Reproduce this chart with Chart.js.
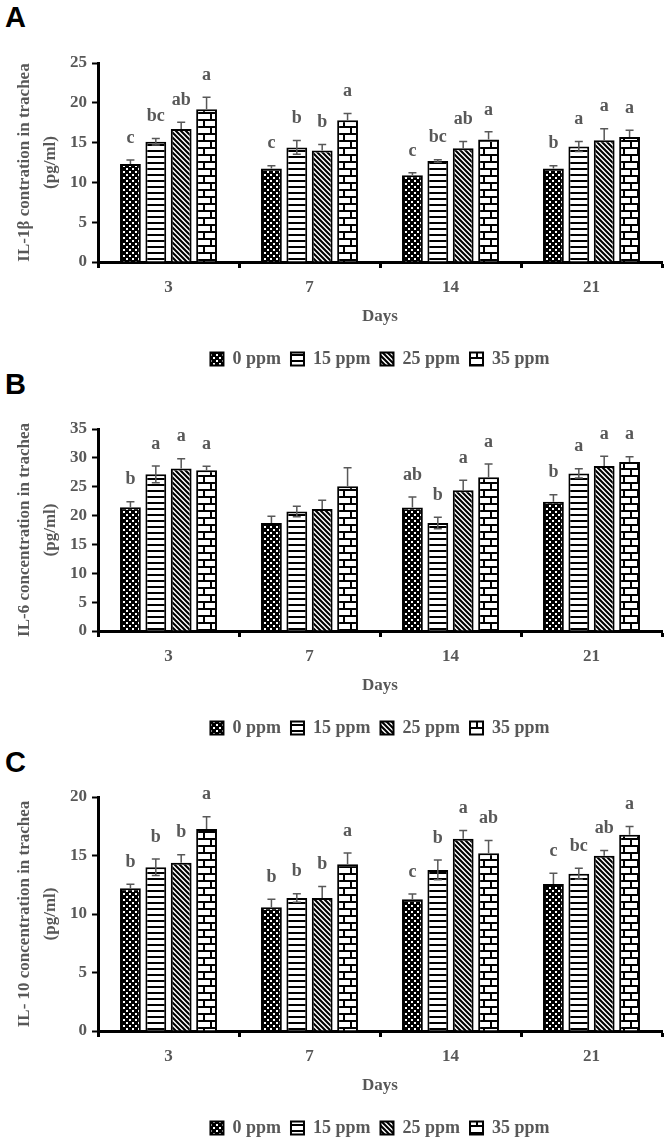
<!DOCTYPE html>
<html>
<head>
<meta charset="utf-8">
<script src="https://cdn.jsdelivr.net/npm/chart.js@4.4.1/dist/chart.umd.min.js"></script>
<style>
  html, body { margin: 0; padding: 0; background: #fff; width: 664px; height: 1141px; overflow: hidden; }
  canvas { position: absolute; left: 0; }
  .tag { position: absolute; left: 5px; font: bold 29px "Liberation Sans", Arial, sans-serif; color: #000; }
</style>
</head>
<body>
<div class="tag" style="top:1px">A</div>
<div class="tag" style="top:368px">B</div>
<div class="tag" style="top:746px">C</div>
<canvas id="chartA" width="664" height="378" style="top:0px"></canvas>
<canvas id="chartB" width="664" height="377" style="top:370px"></canvas>
<canvas id="chartC" width="664" height="407" style="top:740px"></canvas>
<script>
const days = ['3', '7', '14', '21'];
const doses = ['0 ppm', '15 ppm', '25 ppm', '35 ppm'];

// IL-1beta (A)
const il1b_0 = [12.3, 11.75, 10.9, 11.75];
const il1b_15 = [15.1, 14.4, 12.7, 14.5];
const il1b_25 = [16.7, 14.0, 14.3, 15.3];
const il1b_35 = [19.2, 17.8, 15.4, 15.7];
const il1bErr_0 = [0.5, 0.35, 0.3, 0.33];
const il1bErr_15 = [0.4, 0.85, 0.16, 0.63];
const il1bErr_25 = [0.85, 0.75, 0.84, 1.43];
const il1bErr_35 = [1.5, 0.85, 0.95, 0.85];
const il1bSig_0 = ['c', 'c', 'c', 'b'];
const il1bSig_15 = ['bc', 'b', 'bc', 'a'];
const il1bSig_25 = ['ab', 'b', 'ab', 'a'];
const il1bSig_35 = ['a', 'a', 'a', 'a'];

// IL-6 (B)
const il6_0 = [21.45, 18.7, 21.4, 22.4];
const il6_15 = [27.15, 20.7, 18.7, 27.3];
const il6_25 = [28.15, 21.15, 24.4, 28.6];
const il6_35 = [27.85, 25.1, 26.65, 29.3];
const il6Err_0 = [0.95, 1.2, 1.8, 1.2];
const il6Err_15 = [1.45, 0.9, 1.0, 0.8];
const il6Err_25 = [1.7, 1.5, 1.7, 1.7];
const il6Err_35 = [0.7, 3.2, 2.3, 0.9];
const il6Sig_0 = ['b', '', 'ab', 'b'];
const il6Sig_15 = ['a', '', 'b', 'a'];
const il6Sig_25 = ['a', '', 'a', 'a'];
const il6Sig_35 = ['a', '', 'a', 'a'];

// IL-10 (C)
const il10_0 = [12.2, 10.57, 11.26, 12.57];
const il10_15 = [14.0, 11.37, 13.77, 13.43];
const il10_25 = [14.37, 11.37, 16.43, 14.97];
const il10_35 = [17.26, 14.26, 15.2, 16.77];
const il10Err_0 = [0.35, 0.7, 0.45, 0.92];
const il10Err_15 = [0.7, 0.37, 0.85, 0.47];
const il10Err_25 = [0.7, 0.97, 0.7, 0.45];
const il10Err_35 = [1.05, 0.95, 1.08, 0.71];
const il10Sig_0 = ['b', 'b', 'c', 'c'];
const il10Sig_15 = ['b', 'b', 'b', 'bc'];
const il10Sig_25 = ['b', 'b', 'a', 'ab'];
const il10Sig_35 = ['a', 'a', 'ab', 'a'];

const SERIF = '"Liberation Serif", "Times New Roman", serif';
const GREY = '#585858';

function tile(w, h, draw) {
  const c = document.createElement('canvas');
  c.width = w; c.height = h;
  const g = c.getContext('2d');
  g.fillStyle = '#fff';
  g.fillRect(0, 0, w, h);
  draw(g);
  return document.createElement('canvas').getContext('2d').createPattern(c, 'repeat');
}

const dotPattern = tile(6, 6, g => {
  g.fillStyle = '#000';
  g.fillRect(0, 0, 6, 6);
  g.fillStyle = '#fff';
  g.fillRect(0, 0, 2, 2);
  g.fillRect(3, 3, 2, 2);
});
const linePattern = tile(6, 6, g => {
  g.fillStyle = '#000';
  g.fillRect(0, 0, 6, 2);
});
const diagPattern = tile(5, 5, g => {
  g.strokeStyle = '#000';
  g.lineWidth = 2.1;
  g.beginPath();
  g.moveTo(-1, -1); g.lineTo(6, 6);
  g.moveTo(-1, 4); g.lineTo(1, 6);
  g.moveTo(4, -1); g.lineTo(6, 1);
  g.stroke();
});
const brickPattern = tile(14, 14, g => {
  g.fillStyle = '#000';
  g.fillRect(0, 0, 14, 2);
  g.fillRect(0, 7, 14, 2);
  g.fillRect(0, 0, 2, 7);
  g.fillRect(7, 7, 2, 7);
});
const patterns = [dotPattern, linePattern, diagPattern, brickPattern];
const lowerWhisker = [false, true, false, false];

// error bars + significance letters
const errorBars = {
  id: 'errorBars',
  afterDatasetsDraw(chart) {
    const {ctx} = chart;
    const y = chart.scales.y;
    ctx.save();
    chart.data.datasets.forEach((ds, i) => {
      chart.getDatasetMeta(i).data.forEach((bar, j) => {
        const v = ds.data[j], e = ds.errors[j];
        const top = y.getPixelForValue(v + e);
        const bottom = y.getPixelForValue(lowerWhisker[i] ? v - e : v);
        ctx.strokeStyle = GREY;
        ctx.lineWidth = 1.5;
        ctx.beginPath();
        ctx.moveTo(bar.x, bottom);
        ctx.lineTo(bar.x, top);
        ctx.moveTo(bar.x - 4, top);
        ctx.lineTo(bar.x + 4, top);
        if (lowerWhisker[i]) {
          ctx.moveTo(bar.x - 4, bottom);
          ctx.lineTo(bar.x + 4, bottom);
        }
        ctx.stroke();
        ctx.fillStyle = GREY;
        ctx.font = 'bold 18px ' + SERIF;
        ctx.textAlign = 'center';
        ctx.textBaseline = 'middle';
        ctx.fillText(ds.letters[j], bar.x, top - 22);
      });
    });
    ctx.restore();
  }
};

function makeChart(id, title, yMax, top, values, errs, sigs) {
  const datasets = doses.map((d, i) => ({
    label: d,
    data: values[i],
    errors: errs[i],
    letters: sigs[i],
    backgroundColor: patterns[i],
    borderColor: '#000',
    borderWidth: 2,
    barPercentage: 0.82,
    categoryPercentage: 0.72
  }));
  return new Chart(document.getElementById(id), {
    type: 'bar',
    data: { labels: days, datasets: datasets },
    plugins: [errorBars],
    options: {
      responsive: false,
      animation: false,
      layout: { padding: { top: top, right: 2, bottom: 0, left: 0 } },
      plugins: {
        tooltip: { enabled: false },
        legend: {
          position: 'bottom',
          fullSize: false,
          labels: {
            boxWidth: 13,
            boxHeight: 13,
            padding: 10,
            color: GREY,
            font: { family: SERIF, size: 18, weight: 'bold' }
          }
        }
      },
      scales: {
        x: {
          afterFit(scale) { scale.height = 78; },
          grid: { offset: true, drawOnChartArea: false, tickLength: 6, tickWidth: 3, tickColor: '#000' },
          border: { color: '#000', width: 3 },
          ticks: { color: GREY, padding: 9, font: { family: SERIF, size: 17, weight: 'bold' } },
          title: {
            display: true,
            text: 'Days',
            color: GREY,
            padding: { top: 0, bottom: 13 },
            font: { family: SERIF, size: 17, weight: 'bold' }
          }
        },
        y: {
          min: 0,
          max: yMax,
          afterFit(scale) { scale.width = 98; },
          grid: { drawOnChartArea: false, tickLength: 6, tickWidth: 2, tickColor: '#000' },
          border: { color: '#000', width: 3 },
          ticks: { stepSize: 5, color: GREY, padding: 5, font: { family: SERIF, size: 17, weight: 'bold' } },
          title: {
            display: true,
            text: [title, '(pg/ml)'],
            color: GREY,
            padding: { top: 12, bottom: 0 },
            font: { family: SERIF, size: 17, weight: 'bold', lineHeight: 1.53 }
          }
        }
      }
    }
  });
}

makeChart('chartA', 'IL-1β contration in trachea', 25, 63,
  [il1b_0, il1b_15, il1b_25, il1b_35],
  [il1bErr_0, il1bErr_15, il1bErr_25, il1bErr_35],
  [il1bSig_0, il1bSig_15, il1bSig_25, il1bSig_35]);

makeChart('chartB', 'IL-6 concentration in trachea', 35, 59,
  [il6_0, il6_15, il6_25, il6_35],
  [il6Err_0, il6Err_15, il6Err_25, il6Err_35],
  [il6Sig_0, il6Sig_15, il6Sig_25, il6Sig_35]);

makeChart('chartC', 'IL- 10 concentration in trachea', 20, 57,
  [il10_0, il10_15, il10_25, il10_35],
  [il10Err_0, il10Err_15, il10Err_25, il10Err_35],
  [il10Sig_0, il10Sig_15, il10Sig_25, il10Sig_35]);
</script>
</body>
</html>
